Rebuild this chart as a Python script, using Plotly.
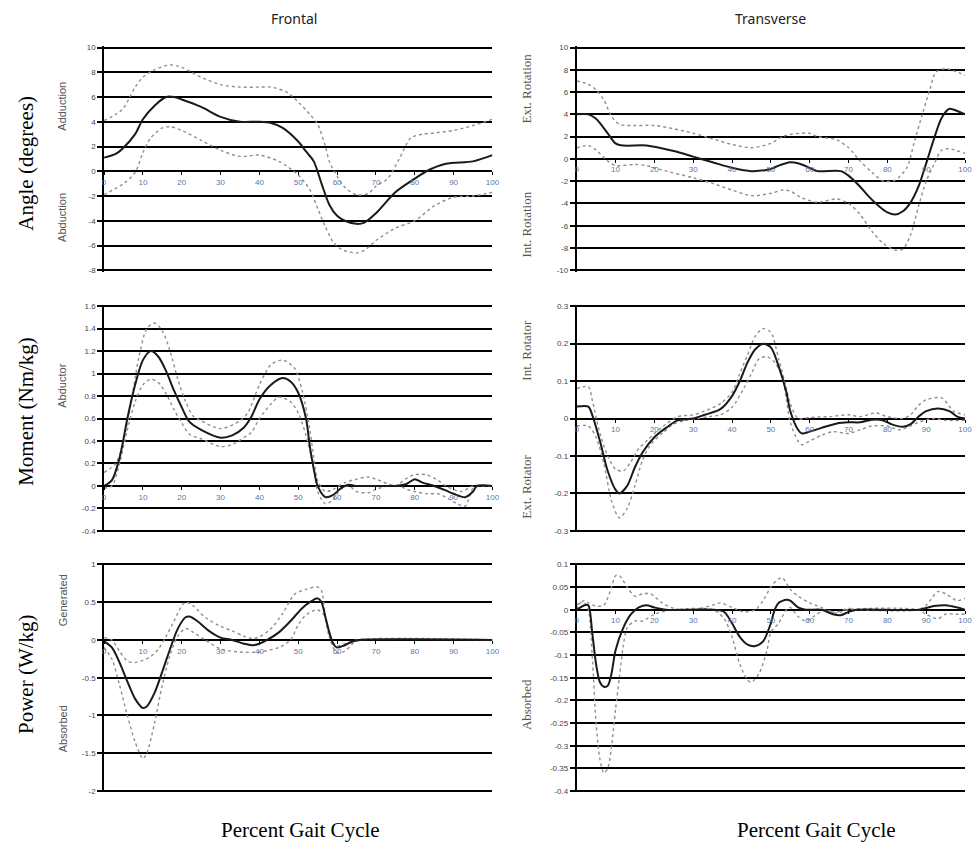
import plotly.graph_objects as go

W, H = 976, 848

X_TICKS = list(range(0, 101, 10))

# ---------------- Frontal angle ----------------
fa_mean_x = [0, 3, 5, 8, 10, 13, 16, 18, 20, 25, 30, 35, 40, 43, 46, 50, 52, 54, 56, 58, 60, 62, 65, 67, 70, 75, 80, 83, 88, 95, 100]
fa_mean_y = [1.1, 1.4, 1.9, 3.0, 4.2, 5.3, 6.0, 6.0, 5.8, 5.2, 4.4, 4.0, 4.0, 3.9, 3.5, 2.4, 1.6, 0.8, -1.0, -2.7, -3.6, -4.0, -4.25, -4.15, -3.4, -1.7, -0.6, 0.0, 0.6, 0.8, 1.3]
fa_up_x = [0, 3, 5, 8, 10, 13, 17, 20, 25, 30, 35, 40, 43, 47, 50, 53, 55, 57, 58, 60, 62, 65, 68, 70, 73, 76, 79, 82, 85, 90, 95, 100]
fa_up_y = [4.1, 4.6, 5.1, 6.8, 7.6, 8.2, 8.6, 8.4, 7.6, 7.0, 6.8, 6.8, 6.8, 6.4, 5.6, 4.6, 3.8, 2.0, 0.8, -0.4, -1.3, -1.9, -1.8, -1.2, -0.6, 1.0, 2.7, 3.0, 3.1, 3.3, 3.7, 4.2]
fa_lo_x = [0, 5, 8, 10, 12, 15, 17, 20, 25, 30, 35, 40, 45, 50, 53, 55, 57, 59, 61, 65, 67, 70, 75, 80, 85, 90, 95, 100]
fa_lo_y = [-1.9, -1.0, -0.1, 1.5, 2.7, 3.5, 3.6, 3.3, 2.5, 1.7, 1.2, 1.3, 0.8, -0.3, -1.5, -3.0, -4.5, -5.7, -6.3, -6.6, -6.4, -5.6, -4.6, -4.0, -2.8, -2.1, -2.0, -1.7]

# ---------------- Transverse angle ----------------
ta_mean_x = [0, 3, 5, 8, 10, 12, 18, 25, 30, 35, 40, 45, 50, 52, 55, 57, 60, 62, 68, 70, 73, 75, 78, 80, 82, 84, 86, 88, 90, 92, 94, 96, 98, 100]
ta_mean_y = [4.0, 4.0, 3.6, 2.3, 1.4, 1.2, 1.2, 0.7, 0.2, -0.3, -0.8, -1.1, -0.9, -0.6, -0.3, -0.4, -0.8, -1.1, -1.1, -1.5, -2.5, -3.3, -4.3, -4.8, -5.0, -4.7, -3.9, -2.5, -0.4, 1.8, 3.7, 4.5, 4.3, 4.0]
ta_up_x = [0, 3, 5, 7, 9, 11, 15, 20, 25, 30, 35, 40, 45, 50, 53, 55, 60, 62, 67, 70, 73, 76, 79, 82, 85, 87, 89, 91, 92.5, 95, 100]
ta_up_y = [7.0, 6.7, 6.2, 5.3, 3.8, 3.1, 3.0, 3.0, 2.7, 2.3, 1.8, 1.3, 1.0, 1.4, 2.0, 2.2, 2.3, 2.0, 1.7, 1.0, -0.2, -1.2, -2.0, -1.9, -0.8, 1.6, 4.0, 6.3, 7.8, 8.1, 7.5]
ta_lo_x = [0, 3, 5, 8, 10, 15, 18, 22, 30, 35, 40, 45, 50, 53, 55, 58, 62, 67, 70, 73, 76, 79, 82, 84, 86, 88, 90, 92, 94, 96, 100]
ta_lo_y = [1.0, 1.2, 0.8, -0.2, -0.6, -0.5, -0.6, -1.0, -1.7, -2.2, -2.8, -3.3, -3.1, -2.8, -2.9, -3.5, -3.9, -3.6, -4.0, -5.0, -6.5, -7.6, -8.2, -8.1, -6.8, -4.3, -2.0, -0.5, 0.8, 0.9, 0.5]

# ---------------- Frontal moment ----------------
fm_mean_x = [0, 2, 4, 6, 8, 10, 12, 14, 16, 18, 20, 22, 25, 30, 33, 36, 38, 40, 43, 46, 48, 50, 52, 53, 54, 55, 57, 59, 61, 63, 65, 70, 75, 78, 80, 82, 85, 88, 90, 93, 95, 96, 100]
fm_mean_y = [0.0, 0.05, 0.25, 0.6, 0.9, 1.12, 1.2, 1.15, 1.02, 0.85, 0.70, 0.57, 0.50, 0.43, 0.45, 0.52, 0.62, 0.77, 0.90, 0.96, 0.93, 0.83, 0.6, 0.35, 0.15, 0.0, -0.1, -0.08, -0.02, 0.01, 0.0, 0.0, 0.0, 0.02, 0.06, 0.03, 0.0, -0.04, -0.07, -0.1, -0.05, 0.0, 0.0]
fm_up_x = [0, 3, 5, 7, 9, 11, 13, 15, 17, 19, 21, 23, 25, 30, 35, 37, 40, 43, 46, 49, 51, 53, 54, 55, 57, 59, 62, 65, 68, 70, 73, 75, 78, 80, 83, 86, 88, 92, 95, 100]
fm_up_y = [0.12, 0.2, 0.4, 0.75, 1.15, 1.4, 1.45, 1.38, 1.2, 0.95, 0.75, 0.62, 0.58, 0.51, 0.58, 0.65, 0.9, 1.08, 1.12, 1.05, 0.85, 0.5, 0.25, 0.05, -0.05, -0.03, 0.03, 0.06, 0.08, 0.06, 0.02, 0.0, 0.07, 0.1, 0.1, 0.05, 0.0, -0.05, 0.0, 0.0]
fm_lo_x = [0, 2, 4, 6, 8, 10, 12, 14, 16, 18, 20, 22, 25, 30, 33, 36, 38, 40, 43, 45, 48, 50, 52, 54, 55, 57, 59, 61, 63, 65, 68, 70, 73, 76, 78, 80, 83, 86, 88, 91, 93, 95, 97, 100]
fm_lo_y = [-0.02, 0.0, 0.2, 0.5, 0.75, 0.9, 0.95, 0.92, 0.82, 0.68, 0.56, 0.46, 0.42, 0.35, 0.37, 0.43, 0.48, 0.6, 0.73, 0.79, 0.75, 0.65, 0.45, 0.15, -0.05, -0.16, -0.12, -0.03, 0.0, -0.05, -0.06, -0.03, 0.0, 0.0, -0.03, -0.05, -0.07, -0.07, -0.1, -0.16, -0.18, -0.02, 0.0, 0.0]

# ---------------- Transverse moment ----------------
tm_mean_x = [0, 3, 4, 6, 8, 10, 11, 13, 15, 17, 20, 23, 26, 30, 33, 37, 40, 42, 44, 46, 48, 50, 52, 54, 55, 57, 58, 60, 63, 67, 70, 73, 76, 79, 81, 84, 86, 88, 90, 93, 96, 98, 100]
tm_mean_y = [0.032, 0.032, 0.01, -0.06, -0.14, -0.19, -0.2, -0.18, -0.13, -0.09, -0.05, -0.025, -0.005, 0.0, 0.01, 0.025, 0.06, 0.1, 0.15, 0.185, 0.2, 0.19, 0.14, 0.07, 0.02, -0.03, -0.04, -0.035, -0.025, -0.013, -0.01, -0.01, -0.003, -0.005, -0.015, -0.022, -0.015, 0.005, 0.02, 0.027, 0.02, 0.005, 0.0]
tm_up_x = [0, 3, 4, 6, 8, 10, 12, 14, 16, 18, 20, 23, 26, 30, 33, 37, 40, 42, 44, 46, 48, 50, 52, 54, 55, 57, 60, 65, 70, 73, 77, 80, 84, 86, 88, 90, 94, 97, 100]
tm_up_y = [0.08, 0.085, 0.05, -0.04, -0.1, -0.135, -0.14, -0.115, -0.08, -0.06, -0.04, -0.015, 0.005, 0.01, 0.02, 0.04, 0.07, 0.12, 0.17, 0.22, 0.24, 0.23, 0.16, 0.08, 0.04, 0.0, 0.003, 0.005, 0.01, 0.005, 0.015, 0.005, 0.0, 0.01, 0.035, 0.05, 0.055, 0.02, 0.01]
tm_lo_x = [0, 3, 5, 7, 9, 11, 13, 15, 17, 19, 22, 25, 28, 31, 34, 37, 40, 43, 45, 47, 49, 51, 53, 54, 55, 57, 58, 60, 63, 66, 70, 73, 76, 80, 83, 86, 88, 92, 95, 100]
tm_lo_y = [-0.02, -0.02, -0.05, -0.12, -0.22, -0.265, -0.24, -0.18, -0.11, -0.07, -0.04, -0.015, -0.005, 0.0, 0.005, 0.01, 0.03, 0.08, 0.12, 0.16, 0.165, 0.15, 0.11, 0.05, -0.01, -0.06, -0.07, -0.06, -0.045, -0.035, -0.04, -0.03, -0.02, -0.02, -0.03, -0.02, -0.01, 0.0, -0.005, -0.005]

# ---------------- Frontal power ----------------
fp_mean_x = [0, 2, 4, 6, 8, 10, 11, 13, 15, 17, 19, 21, 22, 24, 27, 30, 33, 36, 38, 40, 42, 45, 48, 51, 53, 55, 56, 57, 58, 59, 60, 62, 64, 66, 100]
fp_mean_y = [-0.02, -0.1, -0.3, -0.55, -0.78, -0.9, -0.88, -0.7, -0.42, -0.12, 0.15, 0.3, 0.31, 0.25, 0.12, 0.03, 0.0, -0.05, -0.07, -0.05, 0.0, 0.1, 0.25, 0.42, 0.5, 0.55, 0.5, 0.3, 0.1, -0.05, -0.1, -0.07, -0.02, 0.0, 0.0]
fp_up_x = [0, 2, 4, 6, 8, 10, 12, 14, 16, 18, 20, 21, 23, 26, 30, 33, 36, 38, 40, 43, 46, 49, 52, 55, 56, 57, 58, 60, 62, 65, 100]
fp_up_y = [0.03, 0.0, -0.15, -0.28, -0.3, -0.27, -0.22, -0.12, 0.05, 0.25, 0.45, 0.5, 0.45, 0.3, 0.18, 0.12, 0.05, 0.02, 0.04, 0.15, 0.35, 0.6, 0.67, 0.7, 0.65, 0.3, 0.05, -0.08, -0.05, 0.0, 0.0]
fp_lo_x = [0, 2, 4, 6, 8, 10, 11, 13, 15, 17, 19, 21, 23, 26, 30, 35, 40, 45, 48, 50, 52, 55, 57, 58, 59, 60, 62, 64, 66, 100]
fp_lo_y = [-0.1, -0.25, -0.6, -1.0, -1.35, -1.57, -1.5, -1.1, -0.6, -0.2, 0.05, 0.15, 0.1, 0.0, -0.12, -0.16, -0.16, -0.1, 0.0, 0.2, 0.33, 0.4, 0.3, 0.05, -0.1, -0.17, -0.15, -0.05, 0.0, 0.0]

# ---------------- Transverse power ----------------
tp_mean_x = [0, 1, 2, 3, 4, 5, 6, 7, 8, 9, 10, 12, 14, 16, 18, 20, 23, 35, 38, 40, 42, 44, 46, 48, 50, 51, 52, 54, 55, 57, 59, 63, 66, 68, 70, 72, 88, 92, 95, 98, 100]
tp_mean_y = [0.0, 0.005, 0.01, 0.01, -0.05, -0.12, -0.16, -0.17, -0.168, -0.14, -0.09, -0.04, -0.01, 0.005, 0.01, 0.005, 0.0, 0.0, -0.005, -0.03, -0.06, -0.077, -0.08, -0.07, -0.03, 0.0, 0.015, 0.022, 0.02, 0.005, 0.0, 0.0, -0.01, -0.012, -0.005, 0.0, 0.0, 0.008, 0.01, 0.005, 0.0]
tp_up_x = [0, 2, 3, 5, 7, 9, 10, 11, 13, 15, 17, 19, 22, 25, 30, 35, 37, 40, 43, 46, 48, 50, 52, 53, 55, 57, 60, 63, 65, 67, 70, 72, 88, 90, 93, 95, 98, 100]
tp_up_y = [0.01, 0.02, 0.015, 0.008, 0.01, 0.05, 0.075, 0.075, 0.05, 0.03, 0.035, 0.035, 0.015, 0.003, 0.0, 0.01, 0.015, 0.005, -0.005, 0.0, 0.02, 0.05, 0.068, 0.07, 0.045, 0.03, 0.015, 0.005, -0.005, -0.005, 0.003, 0.0, 0.0, 0.01, 0.04, 0.035, 0.02, 0.025]
tp_lo_x = [0, 1, 2, 3, 4, 5, 6, 7, 8, 9, 10, 11, 12, 13, 15, 17, 20, 25, 35, 38, 40, 42, 44, 45, 47, 49, 50, 52, 54, 55, 57, 59, 61, 64, 67, 70, 88, 90, 93, 95, 98, 100]
tp_lo_y = [0.0, 0.015, 0.015, 0.0, -0.1, -0.25, -0.33, -0.36, -0.35, -0.3, -0.22, -0.15, -0.08, -0.04, -0.025, -0.025, -0.01, 0.0, 0.0, -0.02, -0.06, -0.12, -0.155, -0.16, -0.14, -0.09, -0.05, -0.03, 0.0, 0.005, -0.015, -0.025, -0.015, 0.0, -0.008, 0.0, 0.0, -0.01, -0.02, -0.01, -0.01, -0.01]

# y ticks
fa_ticks = [-8, -6, -4, -2, 0, 2, 4, 6, 8, 10]
ta_ticks = [-10, -8, -6, -4, -2, 0, 2, 4, 6, 8, 10]
fm_ticks = [-0.4, -0.2, 0, 0.2, 0.4, 0.6, 0.8, 1, 1.2, 1.4, 1.6]
fm_tick_text = ["-0.4", "-0.2", "0", "0.2", "0.4", "0.6", "0.8", "1", "1.2", "1.4", "1.6"]
tm_ticks = [-0.3, -0.2, -0.1, 0, 0.1, 0.2, 0.3]
tm_tick_text = ["-0.3", "-0.2", "-0.1", "0", "0.1", "0.2", "0.3"]
fp_ticks = [-2, -1.5, -1, -0.5, 0, 0.5, 1]
fp_tick_text = ["-2", "-1.5", "-1", "-0.5", "0", "0.5", "1"]
tp_ticks = [-0.4, -0.35, -0.3, -0.25, -0.2, -0.15, -0.1, -0.05, 0, 0.05, 0.1]
tp_tick_text = ["-0.4", "-0.35", "-0.3", "-0.25", "-0.2", "-0.15", "-0.1", "-0.05", "0", "0.05", "0.1"]

# layout geometry (pixels)
col_x = [(103, 495), (580, 972)]
row_y = [(43.5, 270.5), (304, 533), (564, 795)]

panels = [
    (0, 0, (fa_mean_x, fa_mean_y), (fa_up_x, fa_up_y), (fa_lo_x, fa_lo_y), fa_ticks, [str(t) for t in fa_ticks]),
    (0, 1, (ta_mean_x, ta_mean_y), (ta_up_x, ta_up_y), (ta_lo_x, ta_lo_y), ta_ticks, [str(t) for t in ta_ticks]),
    (1, 0, (fm_mean_x, fm_mean_y), (fm_up_x, fm_up_y), (fm_lo_x, fm_lo_y), fm_ticks, fm_tick_text),
    (1, 1, (tm_mean_x, tm_mean_y), (tm_up_x, tm_up_y), (tm_lo_x, tm_lo_y), tm_ticks, tm_tick_text),
    (2, 0, (fp_mean_x, fp_mean_y), (fp_up_x, fp_up_y), (fp_lo_x, fp_lo_y), fp_ticks, fp_tick_text),
    (2, 1, (tp_mean_x, tp_mean_y), (tp_up_x, tp_up_y), (tp_lo_x, tp_lo_y), tp_ticks, tp_tick_text),
]

fig = go.Figure()
layout = {}

for i, (r, c, mean, up, lo, ticks, ttext) in enumerate(panels):
    n = i + 1
    xa = "x" if n == 1 else f"x{n}"
    ya = "y" if n == 1 else f"y{n}"
    xkey = "xaxis" if n == 1 else f"xaxis{n}"
    ykey = "yaxis" if n == 1 else f"yaxis{n}"
    x0, x1 = col_x[c]
    y0, y1 = row_y[r]
    xdom = [x0 / W, x1 / W]
    ydom = [1 - y1 / H, 1 - y0 / H]
    span = ticks[-1] - ticks[0]
    pad = span * 0.006
    ymin, ymax = ticks[0] - pad, ticks[-1] + pad
    zero_pos = ydom[0] + (0 - ymin) / (ymax - ymin) * (ydom[1] - ydom[0])

    for (xs, ys) in (up, lo):
        fig.add_trace(go.Scatter(x=xs, y=ys, mode="lines", xaxis=xa, yaxis=ya,
                                 line=dict(color="#8f8f8f", width=1.4, dash="dot", shape="spline", smoothing=0.8),
                                 showlegend=False, hoverinfo="skip"))
    fig.add_trace(go.Scatter(x=mean[0], y=mean[1], mode="lines", xaxis=xa, yaxis=ya,
                             line=dict(color="#1a1a1a", width=2, shape="spline", smoothing=0.8),
                             showlegend=False, hoverinfo="skip"))

    layout[xkey] = dict(domain=xdom, range=[0, 100], anchor="free", position=zero_pos,
                        tickvals=X_TICKS, ticktext=[str(t) for t in X_TICKS],
                        showgrid=False, zeroline=False, showline=False,
                        ticks="outside", ticklen=3, tickcolor="#000", tickwidth=1,
                        tickfont=dict(family="Liberation Sans, Arial", size=8, color="#5877a8"),
                        fixedrange=True)
    layout[ykey] = dict(domain=ydom, range=[ymin, ymax], anchor=xa,
                        tickvals=ticks, ticktext=ttext,
                        showgrid=True, gridcolor="#000", gridwidth=1.7,
                        zeroline=True, zerolinecolor="#000", zerolinewidth=1.7,
                        showline=True, linecolor="#000", linewidth=1.7,
                        ticks="outside", ticklen=5, tickcolor="#000", tickwidth=1.7,
                        tickfont=dict(family="Liberation Sans, Arial", size=8, color="#444"),
                        fixedrange=True)

annotations = []

def ann(text, xpx, ypx, size, family, color="#000", angle=0):
    annotations.append(dict(text=text, x=xpx / W, y=1 - ypx / H, xref="paper", yref="paper",
                            showarrow=False, textangle=angle, xanchor="center", yanchor="middle",
                            font=dict(size=size, family=family, color=color)))

SERIF = "Liberation Serif, Times New Roman, serif"
SANS = "Liberation Sans, Arial, sans-serif"

ann("Frontal", 295, 16, 14, "Noto Sans, Open Sans, sans-serif", "#222")
ann("Transverse", 776, 16, 14, "Noto Sans, Open Sans, sans-serif", "#222")

ann("Angle (degrees)", 24, 161, 21, SERIF, "#000", -90)
ann("Moment (Nm/kg)", 24, 411, 21, SERIF, "#000", -90)
ann("Power (W/kg)", 24, 676, 21, SERIF, "#000", -90)

ann("Adduction", 61, 104, 11, SANS, "#555", -90)
ann("Abduction", 61, 216, 11, SANS, "#555", -90)
ann("Abductor", 61, 385, 11, SANS, "#555", -90)
ann("Generated", 61, 601, 11, SANS, "#555", -90)
ann("Absorbed", 61, 731, 11, SANS, "#555", -90)

ann("Ext. Rotation", 529, 86, 13, SERIF, "#555", -90)
ann("Int. Rotation", 529, 223, 13, SERIF, "#555", -90)
ann("Int. Rotator", 529, 350, 13, SERIF, "#555", -90)
ann("Ext. Rotator", 529, 487, 13, SERIF, "#555", -90)
ann("Absorbed", 530, 707, 13, SERIF, "#555", -90)

ann("Percent Gait Cycle", 301, 833, 21, SERIF, "#000")
ann("Percent Gait Cycle", 822, 833, 21, SERIF, "#000")

fig.update_layout(width=W, height=H, margin=dict(l=0, r=0, t=0, b=0),
                  paper_bgcolor="white", plot_bgcolor="white",
                  annotations=annotations, showlegend=False, **layout)

fig.write_html("out.html", config={"displayModeBar": False})
